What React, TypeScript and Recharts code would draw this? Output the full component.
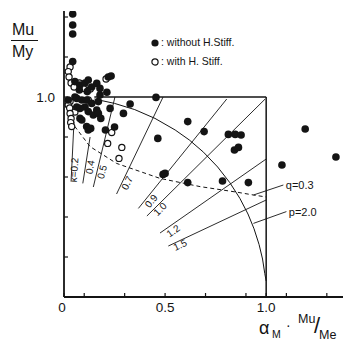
import React from 'react';
import { ComposedChart, Scatter, XAxis, YAxis, ReferenceLine } from 'recharts';

const INK = '#141414';
const FONT = '"Liberation Sans", Arial, sans-serif';

// axis ticks (every 0.1, only a few labelled)
const X_TICKS = [0, 0.1, 0.2, 0.3, 0.4, 0.5, 0.6, 0.7, 0.8, 0.9, 1.0, 1.1, 1.2, 1.3];
const Y_TICKS = [0, 0.1, 0.2, 0.3, 0.4, 0.5, 0.6, 0.7, 0.8, 0.9, 1.0, 1.1, 1.2, 1.3, 1.4];
const X_LABEL_AT = [0, 0.5, 1.0];
const X_LABEL_TEXT = ['0', '0.5', '1.0'];
const Y_LABEL_AT = [0.5, 1.0];
const Y_LABEL_TEXT = ['0.5', '1.0'];

// ● without H. Stiff.
const WITHOUT_STIFF: [number, number][] = [
  [0.043, 1.415], [0.043, 1.36], [0.043, 1.315], [0.043, 1.177],
  [0.054, 1.077], [0.079, 1.06], [0.104, 1.07], [0.12, 1.085], [0.137, 1.05],
  [0.162, 1.068], [0.178, 1.043], [0.219, 1.1], [0.233, 1.105], [0.212, 1.024],
  [0.076, 1.035], [0.115, 1.027], [0.054, 1.0], [0.021, 0.985], [0.063, 0.993],
  [0.088, 0.985], [0.112, 0.985], [0.137, 0.968], [0.17, 0.977], [0.178, 1.01],
  [0.063, 0.95], [0.104, 0.95], [0.079, 0.943], [0.12, 0.927], [0.162, 0.935],
  [0.145, 0.91], [0.17, 0.918], [0.182, 0.893], [0.079, 0.893], [0.088, 0.885],
  [0.112, 0.852], [0.12, 0.835], [0.132, 0.843], [0.228, 0.943], [0.294, 0.918],
  [0.327, 0.965], [0.25, 0.85], [0.205, 0.835], [0.455, 0.998], [0.612, 0.877],
  [0.693, 0.827], [0.464, 0.793], [0.813, 0.813], [0.847, 0.813], [0.876, 0.81],
  [0.843, 0.735], [0.863, 0.748], [0.49, 0.613], [0.5, 0.618], [0.612, 0.572],
  [0.784, 0.58], [0.912, 0.572], [1.193, 0.84], [1.345, 0.7], [1.078, 0.66],
];

// ○ with H. Stiff.
const WITH_STIFF: [number, number][] = [
  [0.03, 1.15], [0.021, 1.127], [0.025, 1.1], [0.035, 1.07], [0.05, 1.05],
  [0.076, 1.07], [0.096, 1.043], [0.13, 1.04], [0.12, 0.985], [0.03, 0.977],
  [0.021, 0.96], [0.028, 0.945], [0.054, 0.925], [0.03, 0.918], [0.035, 0.893],
  [0.033, 0.872], [0.038, 0.852], [0.208, 1.09], [0.236, 0.822], [0.216, 0.768],
  [0.286, 0.748], [0.272, 0.693],
];

// quarter-circle boundary, read along the drawn arc
const ARC: [number, number][] = [
  [0.15, 0.99], [0.25, 0.968], [0.35, 0.937], [0.45, 0.893], [0.55, 0.835],
  [0.62, 0.785], [0.69, 0.724], [0.76, 0.65], [0.82, 0.572], [0.87, 0.493],
  [0.91, 0.415], [0.94, 0.341], [0.965, 0.262], [0.982, 0.19], [0.993, 0.118], [1.0, 0.08],
];

// dashed q = 0.3 curve
const Q_CURVE: [number, number][] = [
  [0.03, 0.88], [0.054, 0.852], [0.129, 0.752], [0.26, 0.668], [0.475, 0.593],
  [0.673, 0.552], [0.85, 0.525], [0.937, 0.51], [1.0, 0.5],
];

// radiating kappa lines
const KAPPA_TEXT = ['κ=0.2', '0.4', '0.5', '0.7', '0.9', '1.0', '1.2', '1.5'];
const KAPPA_FROM: [number, number][] = [
  [0.035, 0.577], [0.093, 0.568], [0.145, 0.55], [0.26, 0.515],
  [0.368, 0.443], [0.41, 0.405], [0.475, 0.32], [0.516, 0.255],
];
const KAPPA_TO: [number, number][] = [
  [0.0495, 0.877], [0.129, 0.8], [0.252, 1.0], [0.49, 1.0],
  [0.805, 0.99], [0.995, 0.99], [1.0, 0.69], [1.0, 0.485],
];
const KAPPA_LABEL_AT: [number, number][] = [
  [0.05, 0.635], [0.129, 0.65], [0.188, 0.625], [0.312, 0.57],
  [0.431, 0.48], [0.475, 0.44], [0.54, 0.33], [0.574, 0.26],
];
const KAPPA_ANGLE = [-86, -81, -76, -64, -51, -45, -35, -25];

// leader lines for q / p
const LEADER_TEXT = ['q=0.3', 'p=2.0'];
const LEADER_FROM: [number, number][] = [[0.937, 0.51], [0.937, 0.368]];
const LEADER_TO: [number, number][] = [[1.085, 0.56], [1.1, 0.427]];

const pts = (arr: [number, number][]) => arr.map(([x, y]) => ({ x, y }));

const kappaLabels = KAPPA_LABEL_AT.map(([x, y], i) => ({ x, y, text: KAPPA_TEXT[i], angle: KAPPA_ANGLE[i] }));
const leaderLabels = LEADER_TO.map(([x, y], i) => ({ x: x + 0.012, y, text: LEADER_TEXT[i] }));

const XTick = (props: any) => {
  const { x, y, payload } = props;
  const i = X_LABEL_AT.indexOf(payload.value);
  return (
    <g>
      <line x1={x} x2={x} y1={y} y2={y - 4} stroke={INK} strokeWidth={1.2} />
      {i >= 0 && (
        <text x={x - (i === 0 ? 2 : 0)} y={y + 15} textAnchor="middle" fontSize={13.5} fill={INK} fontFamily={FONT}>
          {X_LABEL_TEXT[i]}
        </text>
      )}
    </g>
  );
};

const YTick = (props: any) => {
  const { x, y, payload } = props;
  const i = Y_LABEL_AT.indexOf(payload.value);
  return (
    <g>
      <line x1={x} x2={x + 4} y1={y} y2={y} stroke={INK} strokeWidth={1.2} />
      {i >= 0 && (
        <text x={x - 9} y={y + 5} textAnchor="end" fontSize={13.5} fill={INK} fontFamily={FONT}>
          {Y_LABEL_TEXT[i]}
        </text>
      )}
    </g>
  );
};

const Filled = (p: any) => <circle cx={p.cx} cy={p.cy} r={3.8} fill={INK} />;
const Open = (p: any) => <circle cx={p.cx} cy={p.cy} r={3.1} fill="#fff" stroke={INK} strokeWidth={1.2} />;
const NoDot = () => null;

const RotText = (p: any) => (
  <text
    x={p.cx}
    y={p.cy}
    transform={`rotate(${p.payload.angle} ${p.cx} ${p.cy})`}
    textAnchor="middle"
    dominantBaseline="central"
    fontSize={10}
    fill={INK}
    fontFamily={FONT}
  >
    {p.payload.text}
  </text>
);

const SideText = (p: any) => (
  <text x={p.cx} y={p.cy} dominantBaseline="central" fontSize={11} fill={INK} fontFamily={FONT}>
    {p.payload.text}
  </text>
);

const abs = (extra: React.CSSProperties): React.CSSProperties => ({
  position: 'absolute',
  fontFamily: FONT,
  color: INK,
  lineHeight: 1,
  whiteSpace: 'nowrap',
  ...extra,
});

export default function App() {
  return (
    <div style={{ position: 'absolute', left: 0, top: 0, width: 346, height: 342, background: '#fff' }}>
      <ComposedChart width={346} height={342} margin={{ top: 11, right: 3, bottom: 15, left: 0 }}>
        <XAxis
          type="number"
          dataKey="x"
          domain={[0, 1.38]}
          ticks={X_TICKS}
          allowDataOverflow
          height={30}
          tickSize={0}
          tickMargin={0}
          tickLine={false}
          tick={<XTick />}
          axisLine={{ stroke: INK, strokeWidth: 1.8 }}
        />
        <YAxis
          type="number"
          dataKey="y"
          domain={[0, 1.43]}
          ticks={Y_TICKS}
          allowDataOverflow
          width={64}
          tickSize={0}
          tickMargin={0}
          tickLine={false}
          tick={<YTick />}
          axisLine={{ stroke: INK, strokeWidth: 1.8 }}
        />

        {/* box: Mu/My = 1 and alpha*Mu/Me = 1 */}
        <ReferenceLine segment={[{ x: 0.15, y: 1.0 }, { x: 1.0, y: 1.0 }]} stroke={INK} strokeWidth={1.5} ifOverflow="visible" />
        <ReferenceLine segment={[{ x: 1.0, y: 0 }, { x: 1.0, y: 1.0 }]} stroke={INK} strokeWidth={1.5} ifOverflow="visible" />

        {KAPPA_FROM.map((f, i) => (
          <ReferenceLine
            key={'k' + i}
            segment={[{ x: f[0], y: f[1] }, { x: KAPPA_TO[i][0], y: KAPPA_TO[i][1] }]}
            stroke={INK}
            strokeWidth={0.9}
            ifOverflow="visible"
          />
        ))}
        {LEADER_FROM.map((f, i) => (
          <ReferenceLine
            key={'l' + i}
            segment={[{ x: f[0], y: f[1] }, { x: LEADER_TO[i][0], y: LEADER_TO[i][1] }]}
            stroke={INK}
            strokeWidth={0.9}
            ifOverflow="visible"
          />
        ))}

        <Scatter data={pts(ARC)} line={{ stroke: INK, strokeWidth: 1 }} lineType="joint" shape={<NoDot />} isAnimationActive={false} />
        <Scatter
          data={pts(Q_CURVE)}
          line={{ stroke: INK, strokeWidth: 1, strokeDasharray: '4 3' }}
          lineType="joint"
          shape={<NoDot />}
          isAnimationActive={false}
        />

        <Scatter data={kappaLabels} shape={<RotText />} isAnimationActive={false} />
        <Scatter data={leaderLabels} shape={<SideText />} isAnimationActive={false} />

        <Scatter data={pts(WITH_STIFF)} shape={<Open />} isAnimationActive={false} />
        <Scatter data={pts(WITHOUT_STIFF)} shape={<Filled />} isAnimationActive={false} />
      </ComposedChart>

      {/* y title: Mu / My */}
      <div style={abs({ left: 12, top: 22, fontSize: 16 })}>Mu</div>
      <div style={abs({ left: 11, top: 40, width: 27, height: 0, borderTop: `1.5px solid ${INK}` })} />
      <div style={abs({ left: 12, top: 44, fontSize: 16 })}>My</div>

      {/* x title: alpha_M . Mu/Me */}
      <div style={abs({ left: 259, top: 319, fontSize: 18 })}>α</div>
      <div style={abs({ left: 272, top: 329, fontSize: 10.5 })}>M</div>
      <div style={abs({ left: 286, top: 318, fontSize: 14 })}>·</div>
      <div style={abs({ left: 298, top: 313, fontSize: 12.5 })}>Mu</div>
      <div style={abs({ left: 314, top: 315, fontSize: 22, fontWeight: 300 })}>/</div>
      <div style={abs({ left: 319, top: 329, fontSize: 12.5 })}>Me</div>

      {/* legend */}
      <svg style={{ position: 'absolute', left: 150, top: 38 }} width={11} height={30}>
        <circle cx={5} cy={5} r={3.6} fill={INK} />
        <circle cx={5} cy={24} r={3.1} fill="#fff" stroke={INK} strokeWidth={1.2} />
      </svg>
      <div style={abs({ left: 161, top: 37, fontSize: 10.5 })}>: without H.Stiff.</div>
      <div style={abs({ left: 161, top: 56, fontSize: 10.5 })}>: with H. Stiff.</div>
    </div>
  );
}
